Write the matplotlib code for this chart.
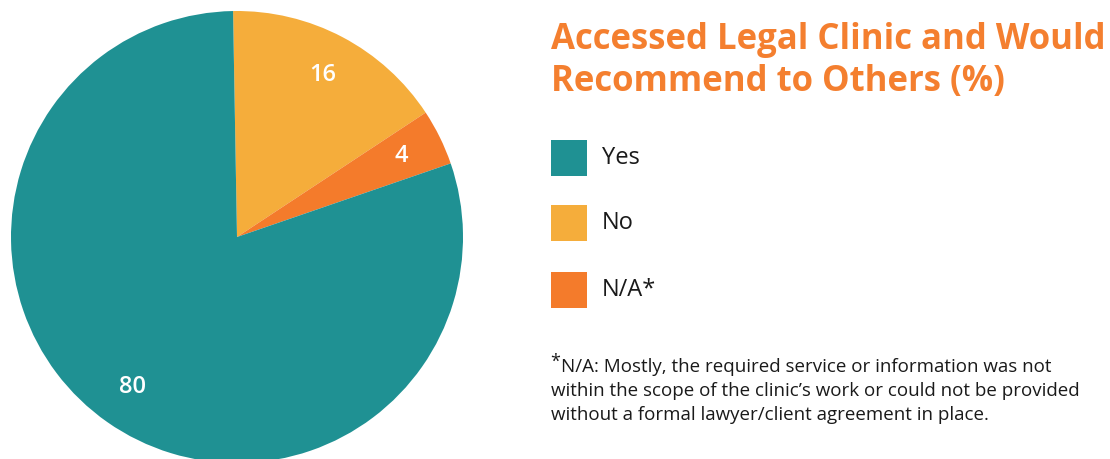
import matplotlib.pyplot as plt
from matplotlib.patches import Rectangle

# 데이터
labels = ['No', 'N/A*', 'Yes']
values = [16, 4, 80]
colors = ['#F5AD3B', '#F47B2B', '#1F9193']

legend_labels = ['Yes', 'No', 'N/A*']
legend_colors = ['#1F9193', '#F5AD3B', '#F47B2B']

TITLE_LINES = ['Accessed Legal Clinic and Would', 'Recommend to Others (%)']
NOTE_LINES = ['N/A: Mostly, the required service or information was not',
              'within the scope of the clinic\u2019s work or could not be provided',
              'without a formal lawyer/client agreement in place.']

W, H = 1110, 459
fig = plt.figure(figsize=(W / 100, H / 100), dpi=100)

# 파이 차트
ax = fig.add_axes([11 / W, -4 / H, 452 / W, 452 / H])
wedges, texts, autotexts = ax.pie(
    values, colors=colors, startangle=91, counterclock=False,
    autopct=lambda p: f'{p:.0f}', pctdistance=0.81,
    wedgeprops=dict(linewidth=0),
    textprops=dict(color='white', fontsize=17, fontweight='semibold', family='Open Sans'))
ax.set_xlim(-1, 1)
ax.set_ylim(-1, 1)
ax.set_aspect('equal')
ax.axis('off')

# 제목
for line, base in zip(TITLE_LINES, [49, 91]):
    fig.text(551 / W, 1 - base / H, line, ha='left', va='baseline', color='#F47F2F',
             fontsize=25, fontweight='bold', family='Open Sans')

# 범례
box_y = [140, 205, 272]
for lab, col, y in zip(legend_labels, legend_colors, box_y):
    fig.patches.append(Rectangle((551 / W, 1 - (y + 36) / H), 36 / W, 36 / H,
                                 transform=fig.transFigure, facecolor=col, edgecolor='none'))
    fig.text(602 / W, 1 - (y + 18) / H, lab, ha='left', va='center',
             fontsize=17, family='Open Sans', color='#1a1a1a')

# 주석
fig.text(550 / W, 1 - 367 / H, '*', ha='left', va='baseline', fontsize=13,
         family='Open Sans', color='#1a1a1a')
for i, (line, base) in enumerate(zip(NOTE_LINES, [372, 396, 420])):
    x = 561 if i == 0 else 551
    fig.text(x / W, 1 - base / H, line, ha='left', va='baseline', fontsize=13.5,
             family='Open Sans', color='#1a1a1a')

fig.savefig('out.png', dpi=100)
